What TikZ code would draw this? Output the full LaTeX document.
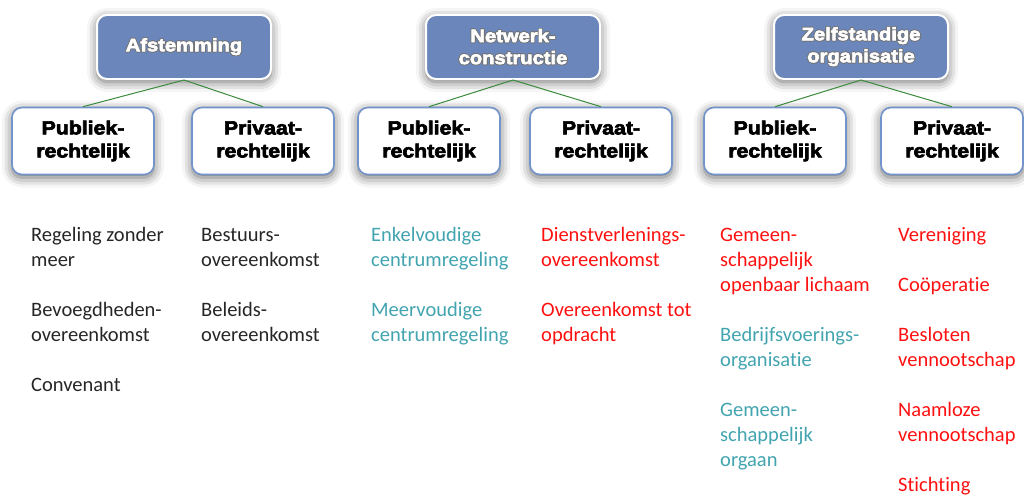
\documentclass[tikz,border=0pt]{standalone}
\usepackage{fontspec}
\setmainfont[Ligatures=NoCommon]{Carlito}
\newfontfamily\boxfont[FakeBold=3.5,FakeStretch=1.12]{Liberation Sans Bold}
\usepackage{contour}
\contourlength{0.7pt}
\usetikzlibrary{shadows.blur}
\definecolor{topfill}{HTML}{6A86BA}
\definecolor{boxline}{HTML}{7393CB}
\definecolor{linkgreen}{HTML}{3A8A3A}
\definecolor{teal}{HTML}{42A4AF}
\definecolor{redtxt}{HTML}{FF1010}
\newcommand{\wt}[1]{\contour{black!55}{#1}}
\tikzset{
  topbox/.style={draw=white, line width=2pt, fill=topfill, rounded corners=10pt,
    minimum width=174pt, minimum height=64pt, align=center, text=white,
    font=\boxfont\fontsize{18}{22}\selectfont,
    blur shadow={shadow xshift=0pt, shadow yshift=-3pt, shadow blur radius=10pt, shadow opacity=60}},
  subbox/.style={draw=boxline, line width=1.6pt, fill=white, rounded corners=10pt,
    minimum width=142pt, minimum height=67pt, align=center, text=black,
    font=\boxfont\fontsize{19}{23}\selectfont,
    blur shadow={shadow xshift=0pt, shadow yshift=-3pt, shadow blur radius=10pt, shadow opacity=60}},
  link/.style={draw=linkgreen, line width=1pt},
  item/.style={anchor=base west, align=left, inner sep=0pt,
    font=\fontsize{20.5}{25}\selectfont},
  blk/.style={item, text=black!85},
  tl/.style={item, text=teal},
  rd/.style={item, text=redtxt}
}
\begin{document}
\begin{tikzpicture}[x=1pt,y=-1pt]
\useasboundingbox (0,0) rectangle (1024,495);
% top boxes
\node[topbox] (t1) at (184,47) {\wt{Afstemming}};
\node[topbox] (t2) at (513,47) {\wt{Netwerk-}\\\wt{constructie}};
\node[topbox] (t3) at (861,47) {\wt{Zelfstandige}\\\wt{organisatie}};
% sub boxes
\node[subbox] (p1) at (83,141) {Publiek-\\rechtelijk};
\node[subbox] (p2) at (263,141) {Privaat-\\rechtelijk};
\node[subbox] (p3) at (429,141) {Publiek-\\rechtelijk};
\node[subbox] (p4) at (601,141) {Privaat-\\rechtelijk};
\node[subbox] (p5) at (775,141) {Publiek-\\rechtelijk};
\node[subbox] (p6) at (952,141) {Privaat-\\rechtelijk};
% links
\draw[link] (t1.south) -- (p1.north);
\draw[link] (t1.south) -- (p2.north);
\draw[link] (t2.south) -- (p3.north);
\draw[link] (t2.south) -- (p4.north);
\draw[link] (t3.south) -- (p5.north);
\draw[link] (t3.south) -- (p6.north);
% column 1 (positions are baselines of the last line)
\node[blk] (a1) at (31,266) {Regeling zonder\\meer};
\node[blk] (a2) at (31,341) {Bevoegdheden-\\overeenkomst};
\node[blk] (a3) at (31,391) {Convenant};
% column 2
\node[blk] (b1) at (201,266) {Bestuurs-\\overeenkomst};
\node[blk] (b2) at (201,341) {Beleids-\\overeenkomst};
% column 3
\node[tl] (c1) at (371,266) {Enkelvoudige\\centrumregeling};
\node[tl] (c2) at (371,341) {Meervoudige\\centrumregeling};
% column 4
\node[rd] (d1) at (541,266) {Dienstverlenings-\\overeenkomst};
\node[rd] (d2) at (541,341) {Overeenkomst tot\\opdracht};
% column 5
\node[rd] (e1) at (720,291) {Gemeen-\\schappelijk\\openbaar lichaam};
\node[tl] (e2) at (720,366) {Bedrijfsvoerings-\\organisatie};
\node[tl] (e3) at (720,466) {Gemeen-\\schappelijk\\orgaan};
% column 6
\node[rd] (f1) at (898,241) {Vereniging};
\node[rd] (f2) at (898,291) {Coöperatie};
\node[rd] (f3) at (898,366) {Besloten\\vennootschap};
\node[rd] (f4) at (898,441) {Naamloze\\vennootschap};
\node[rd] (f5) at (898,491) {Stichting};
\end{tikzpicture}
\end{document}
